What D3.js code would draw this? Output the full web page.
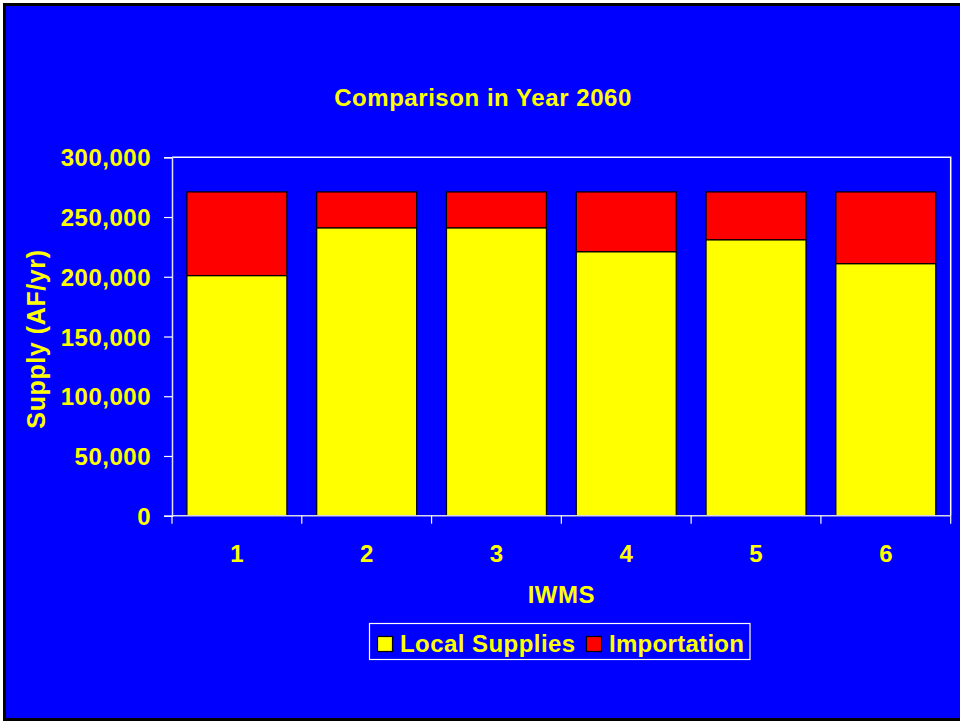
<!DOCTYPE html>
<html>
<head>
<meta charset="utf-8">
<script src="https://cdn.jsdelivr.net/npm/d3@7"></script>
<style>
  html, body { margin: 0; padding: 0; background: #ffffff; }
  svg { display: block; }
  text { font-family: Arial, "Liberation Sans", sans-serif; font-weight: bold; fill: #ffff00; }
</style>
</head>
<body>
<svg id="chart" width="960" height="721"></svg>
<script>
const categories = ["1", "2", "3", "4", "5", "6"];
const localSupplies = [201000, 241000, 241000, 221000, 231000, 211000];
const importation = [70000, 30000, 30000, 50000, 40000, 60000];
const yTicks = [0, 50000, 100000, 150000, 200000, 250000, 300000];
const seriesNames = ["Local Supplies", "Importation"];
const seriesColors = ["#ffff00", "#ff0000"];

const svg = d3.select("#chart");

// slide background with black frame
svg.append("rect")
  .attr("x", 4.5).attr("y", 4.5)
  .attr("width", 960).attr("height", 715)
  .attr("fill", "#0000ff")
  .attr("stroke", "#000000").attr("stroke-width", 3);

const plot = { left: 172, right: 950.7, top: 157.3, bottom: 515.7 };

const x = d3.scaleBand()
  .domain(categories)
  .range([plot.left, plot.right])
  .paddingInner(0.23)
  .paddingOuter(0.115);

const y = d3.scaleLinear()
  .domain([0, 300000])
  .range([plot.bottom, plot.top]);

// plot area frame (top & right)
svg.append("path")
  .attr("d", `M${plot.left},${plot.top}H${plot.right}V${plot.bottom}`)
  .attr("fill", "none")
  .attr("stroke", "#ffffff").attr("stroke-width", 1.5);

// stacked data
const data = categories.map((c, i) => ({ cat: c, local: localSupplies[i], imp: importation[i] }));
const stack = d3.stack().keys(["local", "imp"]);
const stacked = stack(data);

svg.append("g").selectAll("g")
  .data(stacked)
  .join("g")
  .attr("fill", (d, i) => seriesColors[i])
  .selectAll("rect")
  .data(d => d)
  .join("rect")
  .attr("x", d => x(d.data.cat))
  .attr("width", x.bandwidth())
  .attr("y", d => y(d[1]))
  .attr("height", d => y(d[0]) - y(d[1]))
  .attr("stroke", "#000000")
  .attr("stroke-width", 1.2);

// Y axis
const yAxis = d3.axisLeft(y)
  .tickValues(yTicks)
  .tickFormat(d3.format(","))
  .tickSize(8)
  .tickPadding(13);
const gy = svg.append("g")
  .attr("transform", `translate(${plot.left},0)`)
  .call(yAxis);
gy.select(".domain").attr("stroke", "#e0e0ff").attr("stroke-width", 1.5);
gy.selectAll(".tick line").attr("stroke", "#ffffff").attr("stroke-width", 1.2);
gy.selectAll(".tick text")
  .attr("fill", "#ffff00")
  .style("font-size", "24px")
  .style("letter-spacing", "0.5px")
  .style("font-family", "Arial, 'Liberation Sans', sans-serif")
  .style("font-weight", "bold")
  .attr("dy", "0.36em");

// X axis (ticks at band boundaries)
const gx = svg.append("g");
gx.append("line")
  .attr("x1", plot.left).attr("x2", plot.right)
  .attr("y1", plot.bottom).attr("y2", plot.bottom)
  .attr("stroke", "#d8d8e8").attr("stroke-width", 1.5);
const boundaries = categories.map(c => x(c) - x.step() * x.paddingInner() / 2).concat([plot.right]);
gx.selectAll("line.xt")
  .data(boundaries)
  .join("line")
  .attr("class", "xt")
  .attr("x1", d => d).attr("x2", d => d)
  .attr("y1", plot.bottom).attr("y2", plot.bottom + 8)
  .attr("stroke", "#ffffff").attr("stroke-width", 1.2);
gx.selectAll("text")
  .data(categories)
  .join("text")
  .attr("x", d => x(d) + x.bandwidth() / 2)
  .attr("y", 562)
  .attr("text-anchor", "middle")
  .style("font-size", "24px")
  .text(d => d);

// Titles
svg.append("text")
  .attr("x", 483).attr("y", 106)
  .attr("text-anchor", "middle")
  .style("font-size", "24px")
  .style("letter-spacing", "0.55px")
  .text("Comparison in Year 2060");

svg.append("text")
  .attr("x", (plot.left + plot.right) / 2).attr("y", 603)
  .attr("text-anchor", "middle")
  .style("font-size", "24px")
  .style("letter-spacing", "0.5px")
  .text("IWMS");

svg.append("text")
  .attr("transform", "translate(45,339) rotate(-90)")
  .attr("text-anchor", "middle")
  .style("font-size", "25px")
  .style("letter-spacing", "0.6px")
  .text("Supply (AF/yr)");

// Legend
const legend = svg.append("g");
legend.append("rect")
  .attr("x", 369.5).attr("y", 623.5)
  .attr("width", 380.5).attr("height", 36)
  .attr("fill", "none")
  .attr("stroke", "#ffffff").attr("stroke-width", 1.2);
const legendItems = [
  { name: seriesNames[0], color: seriesColors[0], sx: 377.5, tx: 400 },
  { name: seriesNames[1], color: seriesColors[1], sx: 586.5, tx: 609 }
];
legend.selectAll("rect.sw")
  .data(legendItems)
  .join("rect")
  .attr("class", "sw")
  .attr("x", d => d.sx).attr("y", 636.5)
  .attr("width", 15).attr("height", 15)
  .attr("fill", d => d.color)
  .attr("stroke", "#000000").attr("stroke-width", 1.2);
legend.selectAll("text")
  .data(legendItems)
  .join("text")
  .attr("x", d => d.tx).attr("y", 651.5)
  .style("font-size", "24px")
  .style("letter-spacing", (d, i) => i === 0 ? "0.45px" : "0.3px")
  .text(d => d.name);
</script>
</body>
</html>
